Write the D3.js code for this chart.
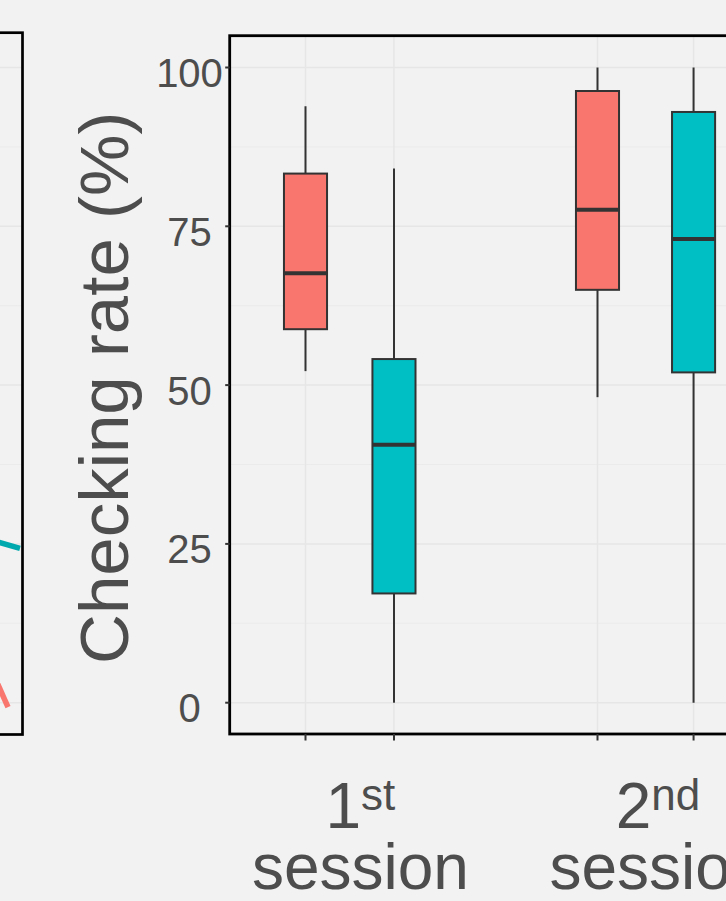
<!DOCTYPE html>
<html>
<head>
<meta charset="utf-8">
<script src="https://cdn.jsdelivr.net/npm/d3@7"></script>
<style>
  html, body { margin: 0; padding: 0; background: #f2f2f2; overflow: hidden; }
  svg { display: block; font-family: "Liberation Sans", Arial, Helvetica, sans-serif; }
</style>
</head>
<body>
<svg id="chart" width="726" height="901"></svg>
<script>
// ---- data -------------------------------------------------------------
// sessions on the x axis
const sessionNumber = ["1", "2"];
const sessionSuffix = ["st", "nd"];
const sessionWord   = ["session", "session"];
const sessionLabelPos = [1.188, 2.207];

// one box per condition within each session (0 = red group, 1 = teal group)
const boxCondition = [0, 1, 0, 1];
const boxPos       = [1.0, 1.303, 2.0, 2.329];
const whiskerLow   = [52.2, 0, 48.1, 0];
const quart1       = [58.8, 17.2, 65.0, 52.0];
const medianVal    = [67.6, 40.6, 77.6, 73.0];
const quart3       = [83.3, 54.1, 96.3, 93.0];
const whiskerHigh  = [93.9, 84.1, 100, 100];

// y axis
const yTicks      = [0, 25, 50, 75, 100];
const yTickLabels = ["0", "25", "50", "75", "100"];
const yMinor      = [12.5, 37.5, 62.5, 87.5];
const yTitle      = "Checking rate (%)";

// neighbouring panel: tail ends of the two trend lines
const lineCondition = [0, 1];
const lineTime  = [[2.5, 2.94], [2.0, 3.0]];
const lineValue = [[30.5, -0.7], [33.3, 24.3]];

// ---- styling ----------------------------------------------------------
const fills     = ["#F8766D", "#00BFC4"];
const lineCols  = ["#F8766D", "#00A9AD"];
const textCol   = "#4d4d4d";
const darkCol   = "#333333";
const gridMajor = "#e6e6e6";
const gridMinor = "#ebebeb";

const svg = d3.select("#chart");

// ---- scales -----------------------------------------------------------
const y = d3.scaleLinear().domain([0, 100]).range([702.7, 67.5]);
const x = d3.scaleLinear().domain([0, 3]).range([13.5, 889.5]);
const boxW = 0.1475; // box width in x units

const panel = { left: 229.7, top: 35.7, right: 760, bottom: 734 };
const leftPanel = { left: -20, top: 32.7, right: 22.5, bottom: 734.5 };
const xL = d3.scaleLinear().domain([2, 3]).range([-180, 20]);

// ---- left (neighbouring) panel ----------------------------------------
svg.append("clipPath").attr("id", "clipL")
  .append("rect")
  .attr("x", leftPanel.left).attr("y", leftPanel.top)
  .attr("width", leftPanel.right - leftPanel.left)
  .attr("height", leftPanel.bottom - leftPanel.top);

const gL = svg.append("g").attr("clip-path", "url(#clipL)");
gL.selectAll("line.minor").data(yMinor).join("line")
  .attr("x1", leftPanel.left).attr("x2", leftPanel.right)
  .attr("y1", d => y(d)).attr("y2", d => y(d))
  .attr("stroke", gridMinor).attr("stroke-width", 1);
gL.selectAll("line.major").data(yTicks).join("line")
  .attr("x1", leftPanel.left).attr("x2", leftPanel.right)
  .attr("y1", d => y(d)).attr("y2", d => y(d))
  .attr("stroke", gridMajor).attr("stroke-width", 1.5);

const lineGen = d3.line().x(d => xL(d[0])).y(d => y(d[1]));
gL.selectAll("path.trend").data(lineCondition).join("path")
  .attr("d", (c, i) => lineGen(lineTime[i].map((t, j) => [t, lineValue[i][j]])))
  .attr("fill", "none")
  .attr("stroke", c => lineCols[c])
  .attr("stroke-width", 5.5);

svg.append("rect")
  .attr("x", leftPanel.left).attr("y", leftPanel.top)
  .attr("width", leftPanel.right - leftPanel.left)
  .attr("height", leftPanel.bottom - leftPanel.top)
  .attr("fill", "none").attr("stroke", "#000").attr("stroke-width", 2.7);

// ---- main panel grid --------------------------------------------------
const gP = svg.append("g");
gP.selectAll("line.ymin").data(yMinor).join("line")
  .attr("x1", panel.left).attr("x2", panel.right)
  .attr("y1", d => y(d)).attr("y2", d => y(d))
  .attr("stroke", gridMinor).attr("stroke-width", 1);
gP.selectAll("line.ymaj").data(yTicks).join("line")
  .attr("x1", panel.left).attr("x2", panel.right)
  .attr("y1", d => y(d)).attr("y2", d => y(d))
  .attr("stroke", gridMajor).attr("stroke-width", 1.5);
gP.selectAll("line.xmaj").data(boxPos).join("line")
  .attr("x1", d => x(d)).attr("x2", d => x(d))
  .attr("y1", panel.top).attr("y2", panel.bottom)
  .attr("stroke", gridMajor).attr("stroke-width", 1.5);

// ---- boxes ------------------------------------------------------------
const boxes = svg.append("g").selectAll("g.box").data(boxPos).join("g");
// whiskers
boxes.append("line")
  .attr("x1", d => x(d)).attr("x2", d => x(d))
  .attr("y1", (d, i) => y(whiskerHigh[i])).attr("y2", (d, i) => y(quart3[i]))
  .attr("stroke", darkCol).attr("stroke-width", 2);
boxes.append("line")
  .attr("x1", d => x(d)).attr("x2", d => x(d))
  .attr("y1", (d, i) => y(quart1[i])).attr("y2", (d, i) => y(whiskerLow[i]))
  .attr("stroke", darkCol).attr("stroke-width", 2);
// box body
boxes.append("rect")
  .attr("x", d => x(d - boxW / 2))
  .attr("width", d => x(d + boxW / 2) - x(d - boxW / 2))
  .attr("y", (d, i) => y(quart3[i]))
  .attr("height", (d, i) => y(quart1[i]) - y(quart3[i]))
  .attr("fill", (d, i) => fills[boxCondition[i]])
  .attr("stroke", darkCol).attr("stroke-width", 2);
// median
boxes.append("line")
  .attr("x1", d => x(d - boxW / 2)).attr("x2", d => x(d + boxW / 2))
  .attr("y1", (d, i) => y(medianVal[i])).attr("y2", (d, i) => y(medianVal[i]))
  .attr("stroke", darkCol).attr("stroke-width", 4);

// ---- panel border / axes ---------------------------------------------
svg.append("rect")
  .attr("x", panel.left).attr("y", panel.top)
  .attr("width", panel.right - panel.left)
  .attr("height", panel.bottom - panel.top)
  .attr("fill", "none").attr("stroke", "#000").attr("stroke-width", 2.8);

// y ticks
svg.append("g").selectAll("line").data(yTicks).join("line")
  .attr("x1", panel.left - 4.5).attr("x2", panel.left)
  .attr("y1", d => y(d)).attr("y2", d => y(d))
  .attr("stroke", darkCol).attr("stroke-width", 2);
svg.append("g").selectAll("text").data(yTicks).join("text")
  .attr("x", 189.5).attr("y", d => y(d) + 19.5)
  .attr("text-anchor", "middle")
  .attr("font-size", 40).attr("fill", textCol)
  .text((d, i) => yTickLabels[i]);

// x ticks
svg.append("g").selectAll("line").data(boxPos).join("line")
  .attr("x1", d => x(d)).attr("x2", d => x(d))
  .attr("y1", panel.bottom).attr("y2", panel.bottom + 6.5)
  .attr("stroke", darkCol).attr("stroke-width", 2);

// x labels: ordinal with superscript suffix, then "session"
const xl = svg.append("g").selectAll("g").data(sessionLabelPos).join("g");
const first = xl.append("text")
  .attr("x", d => x(d)).attr("y", 828)
  .attr("text-anchor", "middle")
  .attr("font-size", 64).attr("fill", textCol);
first.append("tspan").text((d, i) => sessionNumber[i]);
first.append("tspan")
  .attr("font-size", 44).attr("dy", -18)
  .text((d, i) => sessionSuffix[i]);
xl.append("text")
  .attr("x", d => x(d)).attr("y", 889)
  .attr("text-anchor", "middle")
  .attr("font-size", 64).attr("fill", textCol)
  .text((d, i) => sessionWord[i]);

// y title
svg.append("text")
  .attr("transform", `translate(128, ${(panel.top + panel.bottom) / 2 + 3}) rotate(-90)`)
  .attr("text-anchor", "middle")
  .attr("font-size", 69).attr("fill", textCol)
  .text(yTitle);
</script>
</body>
</html>
